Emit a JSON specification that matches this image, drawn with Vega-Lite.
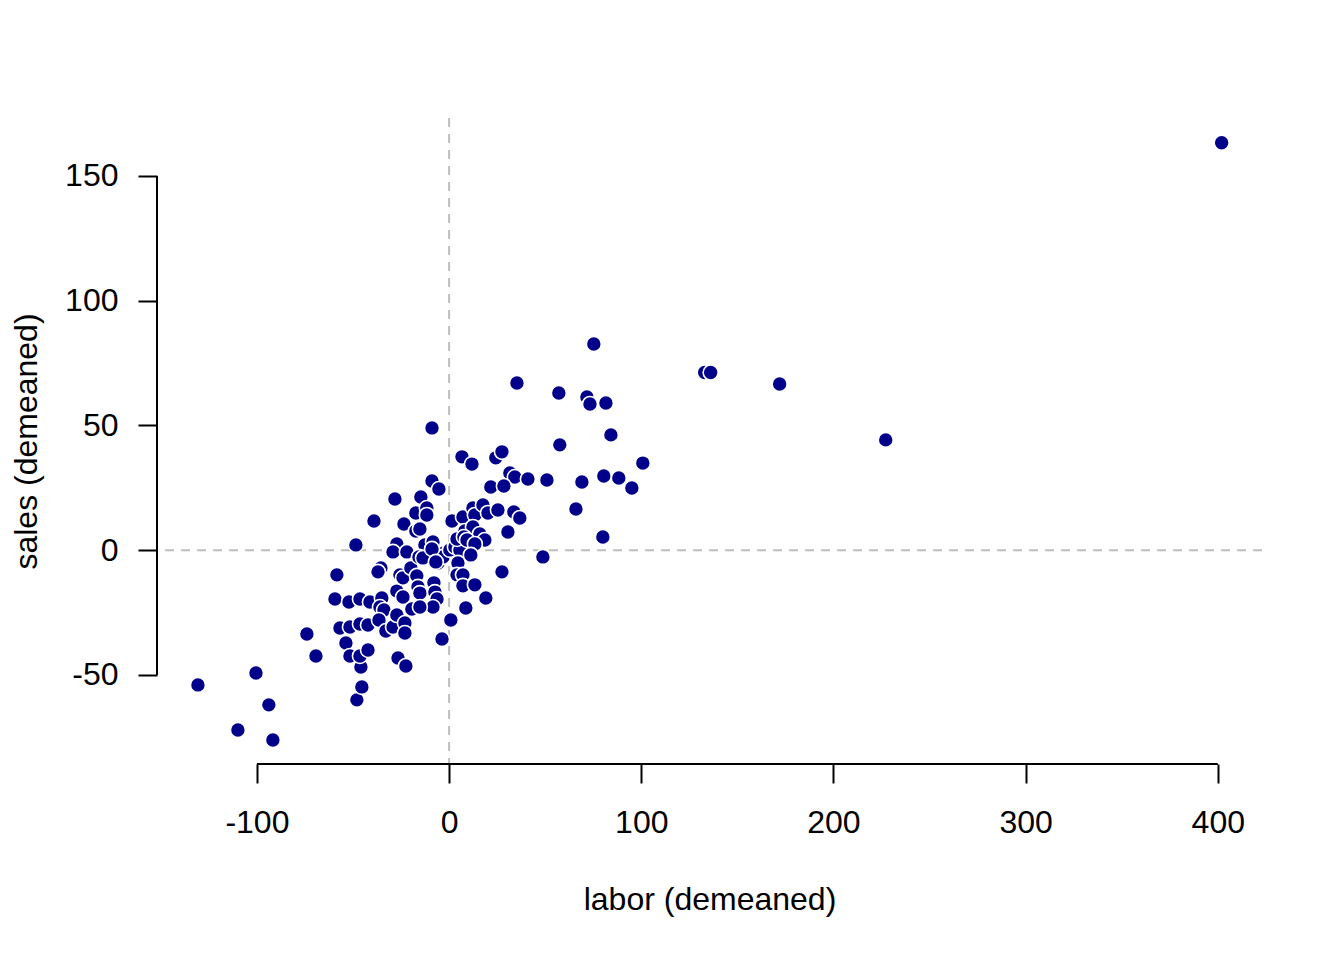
{
  "$schema": "https://vega.github.io/schema/vega-lite/v6.json",
  "width": 1105,
  "height": 646,
  "autosize": {"type": "none"},
  "padding": {"left": 157, "top": 118, "right": 82, "bottom": 196},
  "background": "white",
  "config": {"view": {"stroke": null}, "font": "Liberation Sans"},
  "data": {
    "values": [
      {"labor": -130.7, "sales": -54.0}, {"labor": -109.9, "sales": -72.1}, {"labor": -100.5, "sales": -49.2},
      {"labor": -93.8, "sales": -62.0}, {"labor": -91.7, "sales": -76.1}, {"labor": -74.0, "sales": -33.6},
      {"labor": -69.3, "sales": -42.4}, {"labor": -58.4, "sales": -9.9}, {"labor": -59.4, "sales": -19.6},
      {"labor": -56.8, "sales": -31.2}, {"labor": -52.1, "sales": -20.8}, {"labor": -51.6, "sales": -30.8},
      {"labor": -53.7, "sales": -37.2}, {"labor": -51.6, "sales": -42.4}, {"labor": -48.5, "sales": 2.1},
      {"labor": -48.0, "sales": -60.0}, {"labor": -45.4, "sales": -54.8}, {"labor": -45.9, "sales": -46.8},
      {"labor": -46.4, "sales": -42.4}, {"labor": -42.2, "sales": -40.0}, {"labor": -46.4, "sales": -29.6},
      {"labor": -42.2, "sales": -30.0}, {"labor": -46.4, "sales": -19.6}, {"labor": -41.2, "sales": -20.8},
      {"labor": -39.1, "sales": 11.7}, {"labor": -35.5, "sales": -7.1}, {"labor": -37.0, "sales": -8.7},
      {"labor": -35.0, "sales": -19.2}, {"labor": -36.0, "sales": -22.8}, {"labor": -33.9, "sales": -24.0},
      {"labor": -36.5, "sales": -28.0}, {"labor": -32.9, "sales": -32.4}, {"labor": -29.2, "sales": -30.8},
      {"labor": -27.2, "sales": -26.0}, {"labor": -23.0, "sales": -29.2}, {"labor": -23.0, "sales": -33.2},
      {"labor": -26.6, "sales": -43.2}, {"labor": -22.5, "sales": -46.4}, {"labor": -27.2, "sales": -16.4},
      {"labor": -24.0, "sales": -18.8}, {"labor": -25.6, "sales": -9.9}, {"labor": -24.0, "sales": -11.1},
      {"labor": -19.9, "sales": -7.1}, {"labor": -16.8, "sales": -10.3}, {"labor": -16.2, "sales": -14.7},
      {"labor": -15.2, "sales": -17.2}, {"labor": -7.9, "sales": -13.1}, {"labor": -7.4, "sales": -16.8},
      {"labor": -6.3, "sales": -19.6}, {"labor": -8.4, "sales": -22.8}, {"labor": -19.4, "sales": -23.6},
      {"labor": -15.2, "sales": -22.8}, {"labor": -28.2, "sales": 20.5}, {"labor": -14.7, "sales": 21.3},
      {"labor": -23.5, "sales": 10.5}, {"labor": -17.3, "sales": 14.9}, {"labor": -11.6, "sales": 16.9},
      {"labor": -11.6, "sales": 14.1}, {"labor": -17.3, "sales": 7.7}, {"labor": -15.2, "sales": 8.5},
      {"labor": -27.2, "sales": 2.5}, {"labor": -29.2, "sales": -0.7}, {"labor": -22.0, "sales": -0.7},
      {"labor": -12.6, "sales": 2.1}, {"labor": -15.7, "sales": -2.7}, {"labor": -13.6, "sales": -3.1},
      {"labor": -5.8, "sales": -5.1}, {"labor": -2.7, "sales": -1.1}, {"labor": -3.2, "sales": -2.7},
      {"labor": 0.4, "sales": 0.1}, {"labor": 3.0, "sales": 1.3}, {"labor": 5.6, "sales": 0.1},
      {"labor": 4.1, "sales": 4.5}, {"labor": -8.4, "sales": 3.3}, {"labor": -8.9, "sales": 0.5},
      {"labor": -8.9, "sales": 27.7}, {"labor": -5.3, "sales": 24.5}, {"labor": -8.9, "sales": 49.0},
      {"labor": 1.5, "sales": 11.7}, {"labor": 7.2, "sales": 13.3}, {"labor": 12.4, "sales": 16.9},
      {"labor": 13.4, "sales": 14.1}, {"labor": 17.6, "sales": 18.1}, {"labor": 20.2, "sales": 14.9},
      {"labor": 25.4, "sales": 16.1}, {"labor": 8.2, "sales": 7.7}, {"labor": 12.4, "sales": 9.3},
      {"labor": 16.0, "sales": 6.5}, {"labor": 18.6, "sales": 4.1}, {"labor": 7.7, "sales": 5.3},
      {"labor": 9.3, "sales": 4.1}, {"labor": 13.4, "sales": 2.5}, {"labor": 11.3, "sales": -1.9},
      {"labor": -6.9, "sales": -4.7}, {"labor": 4.6, "sales": -5.1}, {"labor": 4.1, "sales": -9.9},
      {"labor": 7.2, "sales": -9.9}, {"labor": 7.2, "sales": -14.3}, {"labor": 13.4, "sales": -13.9},
      {"labor": 19.1, "sales": -19.2}, {"labor": 8.7, "sales": -23.2}, {"labor": 0.9, "sales": -28.0},
      {"labor": -3.7, "sales": -35.6}, {"labor": 27.5, "sales": -8.7}, {"labor": 48.8, "sales": -2.7},
      {"labor": 30.6, "sales": 7.3}, {"labor": 33.7, "sales": 15.3}, {"labor": 36.8, "sales": 12.9},
      {"labor": 6.7, "sales": 37.4}, {"labor": 11.9, "sales": 34.5}, {"labor": 24.3, "sales": 37.0},
      {"labor": 27.5, "sales": 39.4}, {"labor": 31.6, "sales": 30.9}, {"labor": 34.2, "sales": 29.3},
      {"labor": 41.0, "sales": 28.5}, {"labor": 21.7, "sales": 25.3}, {"labor": 28.5, "sales": 25.7},
      {"labor": 50.9, "sales": 28.1}, {"labor": 69.1, "sales": 27.3}, {"labor": 80.5, "sales": 29.7},
      {"labor": 88.3, "sales": 28.9}, {"labor": 95.1, "sales": 24.9}, {"labor": 66.0, "sales": 16.5},
      {"labor": 80.0, "sales": 5.3}, {"labor": 57.6, "sales": 42.2}, {"labor": 84.2, "sales": 46.2},
      {"labor": 100.8, "sales": 34.9}, {"labor": 75.3, "sales": 82.6}, {"labor": 35.3, "sales": 67.0},
      {"labor": 57.1, "sales": 63.0}, {"labor": 71.7, "sales": 61.4}, {"labor": 73.3, "sales": 58.6},
      {"labor": 81.6, "sales": 59.0}, {"labor": 133.0, "sales": 71.2}, {"labor": 136.1, "sales": 71.2},
      {"labor": 172.0, "sales": 66.6}, {"labor": 227.2, "sales": 44.2}, {"labor": 402.0, "sales": 163.3}
    ]
  },
  "layer": [
    {
      "data": {"values": [{}]},
      "mark": {"type": "rule", "color": "#BEBEBE", "strokeWidth": 2, "strokeDash": [9, 7]},
      "encoding": {
        "y": {"datum": 0, "type": "quantitative", "scale": {"domain": [-85.7, 173.2], "nice": false, "zero": false}}
      }
    },
    {
      "data": {"values": [{}]},
      "mark": {"type": "rule", "color": "#BEBEBE", "strokeWidth": 2, "strokeDash": [9, 7]},
      "encoding": {
        "x": {"datum": 0, "type": "quantitative", "scale": {"domain": [-152.0, 423.0], "nice": false, "zero": false}}
      }
    },
    {
      "data": {"values": [{}]},
      "mark": {"type": "rule", "color": "black", "strokeWidth": 2},
      "encoding": {
        "x": {"datum": -100, "type": "quantitative"},
        "x2": {"datum": 400},
        "y": {"datum": -85.7, "type": "quantitative"}
      }
    },
    {
      "data": {"values": [{}]},
      "mark": {"type": "rule", "color": "black", "strokeWidth": 2},
      "encoding": {
        "x": {"datum": -152.0, "type": "quantitative"},
        "y": {"datum": -50, "type": "quantitative"},
        "y2": {"datum": 150}
      }
    },
    {
      "mark": {
        "type": "circle",
        "fill": "#00008B",
        "stroke": "white",
        "strokeWidth": 1.6,
        "size": 225,
        "opacity": 1
      },
      "encoding": {
        "x": {
          "field": "labor",
          "type": "quantitative",
          "scale": {"domain": [-152.0, 423.0], "nice": false, "zero": false},
          "axis": {
            "values": [-100, 0, 100, 200, 300, 400],
            "labelExpr": "'' + datum.value",
            "domain": false,
            "grid": false,
            "ticks": true,
            "tickSize": 19,
            "tickWidth": 2,
            "tickColor": "black",
            "labelFont": "Liberation Sans",
            "labelFontSize": 32,
            "labelColor": "black",
            "labelBaseline": "alphabetic",
            "labelPadding": 49,
            "labelFlush": false,
            "labelOverlap": false,
            "title": "labor (demeaned)",
            "titleFont": "Liberation Sans",
            "titleFontSize": 32,
            "titleFontWeight": "normal",
            "titleColor": "black",
            "titleBaseline": "alphabetic",
            "titleY": 145
          }
        },
        "y": {
          "field": "sales",
          "type": "quantitative",
          "scale": {"domain": [-85.7, 173.2], "nice": false, "zero": false},
          "axis": {
            "values": [-50, 0, 50, 100, 150],
            "labelExpr": "'' + datum.value",
            "domain": false,
            "grid": false,
            "ticks": true,
            "tickSize": 19,
            "tickWidth": 2,
            "tickColor": "black",
            "labelFont": "Liberation Sans",
            "labelFontSize": 32,
            "labelColor": "black",
            "labelBaseline": "middle",
            "labelPadding": 20,
            "labelFlush": false,
            "labelOverlap": false,
            "title": "sales (demeaned)",
            "titleFont": "Liberation Sans",
            "titleFontSize": 32,
            "titleFontWeight": "normal",
            "titleColor": "black",
            "titleAngle": -90,
            "titleAlign": "center",
            "titleBaseline": "alphabetic",
            "titleX": -121,
            "titleY": 323
          }
        }
      }
    }
  ]
}
